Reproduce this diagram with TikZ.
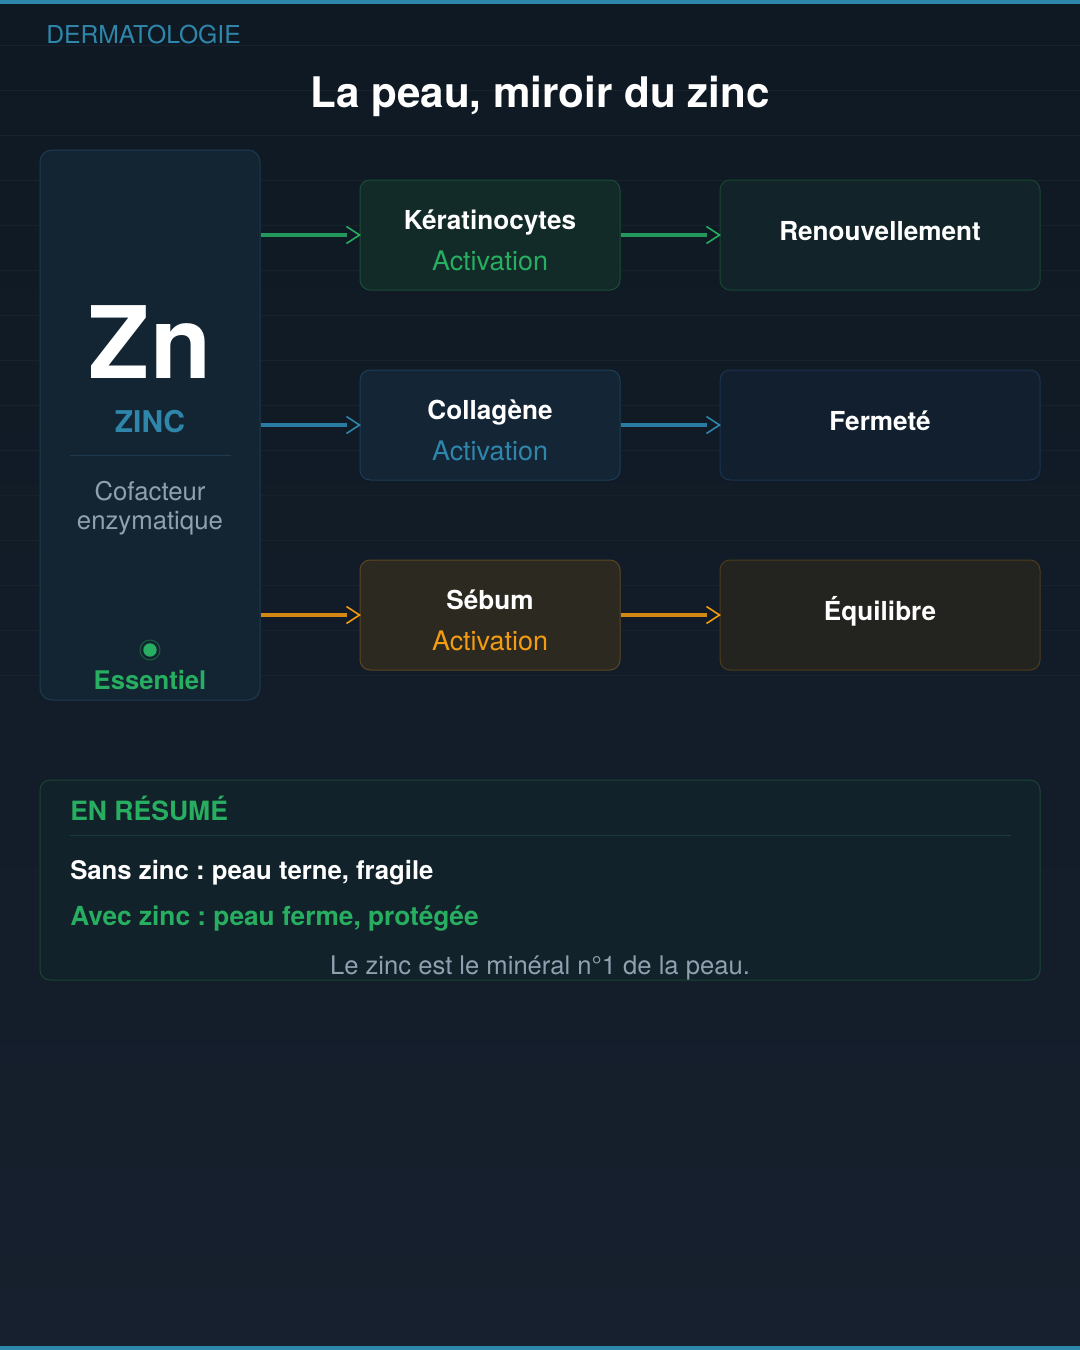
\documentclass[tikz,border=0pt]{standalone}
\usepackage{fontspec}
\setmainfont{TeX Gyre Heros}
\usetikzlibrary{arrows.meta,calc}
\frenchspacing
\definecolor{bgtop}{HTML}{0F1923}
\definecolor{bgbot}{HTML}{16202E}
\definecolor{gridc}{HTML}{17222C}
\definecolor{accent}{HTML}{2E86AB}
\definecolor{grn}{HTML}{27AE60}
\definecolor{grnline}{HTML}{22995A}
\definecolor{blu}{HTML}{2E86AB}
\definecolor{bluline}{HTML}{2A7BA2}
\definecolor{org}{HTML}{F39C12}
\definecolor{orgline}{HTML}{D48814}
\definecolor{graytxt}{HTML}{8FA1B0}
\definecolor{znfill}{HTML}{132533}
\definecolor{znline}{HTML}{1C3B50}
\definecolor{znsep}{HTML}{1F3A4F}
\definecolor{gmfill}{HTML}{122A28}
\definecolor{gmline}{HTML}{1B4D36}
\definecolor{grfill}{HTML}{12242A}
\definecolor{grline}{HTML}{184530}
\definecolor{bmfill}{HTML}{142536}
\definecolor{bmline}{HTML}{1B3D56}
\definecolor{brfill}{HTML}{121F2E}
\definecolor{brline}{HTML}{1A3450}
\definecolor{omfill}{HTML}{2C2920}
\definecolor{omline}{HTML}{5C4520}
\definecolor{orfill}{HTML}{232420}
\definecolor{orline}{HTML}{4D3B1C}
\definecolor{sumfill}{HTML}{12222A}
\definecolor{sumline}{HTML}{1A4535}
\definecolor{sumsep}{HTML}{1B3A3A}
\definecolor{dotring}{HTML}{1B5E3A}
\begin{document}
\begin{tikzpicture}[x=0.75pt,y=-0.75pt,
  box/.style={line width=0.75pt, rounded corners=7.5pt, inner sep=0pt},
  midbox/.style={box, minimum width=195pt, minimum height=82.5pt},
  rbox/.style={box, minimum width=240pt, minimum height=82.5pt},
  t/.style={anchor=base, inner sep=0pt, text=white},
  fb/.style={font=\fontsize{#1}{#1}\selectfont\bfseries},
  fr/.style={font=\fontsize{#1}{#1}\selectfont},
  conn/.style={draw=#1, line width=2.4pt, shorten >=9.75pt},
  chev/.style={draw=#1, line width=1.2pt},
]
\useasboundingbox (0,0) rectangle (1080,1350);
% background
\shade[top color=bgtop, bottom color=bgbot] (0,0) rectangle (1080,1350);
\foreach \yy in {45,90,...,675} \draw[gridc, line width=0.75pt] (0,\yy) -- (1080,\yy);
\fill[accent] (0,0) rectangle (1080,4);
\fill[accent] (0,1346) rectangle (1080,1350);

% header
\node[t, fr=18.5pt, text=accent, anchor=base west] (cat) at (46,43) {DERMATOLOGIE};
\node[t, fb=31.6pt] (title) at (540,107) {La peau, miroir du zinc};

% left panel
\node[box, rounded corners=9pt, fill=znfill, draw=znline, minimum width=165pt, minimum height=412.5pt] (zn) at (150,425) {};
\node[t, fb=75pt] (znsym) at (150,378) {Zn};
\node[t, fb=22.5pt, text=accent] (zinc) at (150,432) {ZINC};
\coordinate (sepl) at (70,455);
\coordinate (sepr) at (231,455);
\draw[znsep, line width=0.75pt] (sepl) -- (sepr);
\node[t, fr=19.3pt, text=graytxt] (cof1) at (150,500) {Cofacteur};
\node[t, fr=19.3pt, text=graytxt] (cof2) at (150,529) {enzymatique};
\node[circle, draw=dotring, line width=0.75pt, minimum size=15pt, inner sep=0pt] (ring) at (150,650) {};
\node[circle, fill=grn, minimum size=10pt, inner sep=0pt] (dot) at (150,650) {};
\node[t, fb=19.25pt, text=grn] (ess) at (150,689) {Essentiel};

% row 1
\node[midbox, fill=gmfill, draw=gmline] (ker) at (490,235) {};
\node[t, fb=19.6pt] (kert) at (490,229) {Kératinocytes};
\node[t, fr=20.2pt, text=grn] (kera) at (490,270) {Activation};
\node[rbox, fill=grfill, draw=grline] (ren) at (880,235) {};
\node[t, fb=19.6pt] (rent) at (880,240) {Renouvellement};

% row 2
\node[midbox, fill=bmfill, draw=bmline] (col) at (490,425) {};
\node[t, fb=19.6pt] (colt) at (490,419) {Collagène};
\node[t, fr=20.2pt, text=blu] (cola) at (490,460) {Activation};
\node[rbox, fill=brfill, draw=brline] (fer) at (880,425) {};
\node[t, fb=19.6pt] (fert) at (880,430) {Fermeté};

% row 3
\node[midbox, fill=omfill, draw=omline] (seb) at (490,615) {};
\node[t, fb=19.6pt] (sebt) at (490,609) {Sébum};
\node[t, fr=20.2pt, text=org] (seba) at (490,650) {Activation};
\node[rbox, fill=orfill, draw=orline] (equ) at (880,615) {};
\node[t, fb=19.6pt] (equt) at (880,620) {Équilibre};

% connectors (line + open chevron tip)
\foreach \a/\b/\lc/\tc in {zn/ker/grnline/grn, ker/ren/grnline/grn, zn/col/bluline/blu, col/fer/bluline/blu, zn/seb/orgline/org, seb/equ/orgline/org} {
  \draw[conn=\lc] (\a.east |- \b.west) -- (\b.west);
  \draw[chev=\tc] ($(\b.west)+(-13,-8.5)$) -- (\b.west) -- ($(\b.west)+(-13,8.5)$);
}

% summary
\node[box, fill=sumfill, draw=sumline, minimum width=750pt, minimum height=150pt] (sum) at (540,880) {};
\node[t, fb=19.9pt, text=grn, anchor=base west] (sumh) at (70,820) {EN RÉSUMÉ};
\coordinate (ssl) at (70,835.5);
\coordinate (ssr) at (1011,835.5);
\draw[sumsep, line width=0.75pt] (ssl) -- (ssr);
\node[t, fb=19.3pt, anchor=base west] (sans) at (70,879) {Sans zinc : peau terne, fragile};
\node[t, fb=19.7pt, text=grn, anchor=base west] (avec) at (70,925) {Avec zinc : peau ferme, protégée};
\node[t, fr=19.2pt, text=graytxt] (note) at (540,974) {Le zinc est le minéral n°1 de la peau.};
\end{tikzpicture}
\end{document}
